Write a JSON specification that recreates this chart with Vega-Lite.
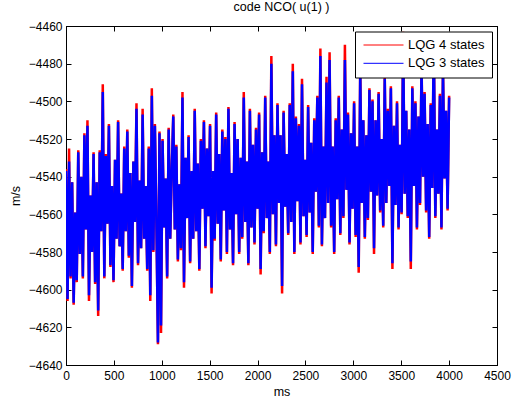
{
  "$schema": "https://vega.github.io/schema/vega-lite/v6.json",
  "width": 431,
  "height": 339,
  "autosize": {"type": "none"},
  "padding": {"left": 66, "top": 26, "right": 19, "bottom": 40},
  "background": "white",
  "title": {"text": "code NCO( u(1) )", "font": "Liberation Sans", "fontSize": 12.5, "fontWeight": "normal", "color": "black", "offset": 7, "anchor": "middle"},
  "config": {
    "view": {"stroke": "black", "strokeWidth": 1},
    "axis": {"domainColor": "black", "domainWidth": 1, "tickColor": "black", "tickWidth": 1, "tickSize": -5, "labelColor": "black", "titleColor": "black", "labelFont": "Liberation Sans", "titleFont": "Liberation Sans", "labelFontSize": 12, "titleFontSize": 12.5, "titleFontWeight": "normal", "grid": false, "labelFlush": false, "labelOverlap": false, "format": "d"}
  },
  "data": {"values": [
    {"t":0,"a":-4536,"b":-4537},{"t":16,"a":-4606,"b":-4605},{"t":32,"a":-4525,"b":-4532},{"t":48,"a":-4594,"b":-4593},{"t":64,"a":-4543,"b":-4543},{"t":80,"a":-4608,"b":-4607},{"t":96,"a":-4559,"b":-4559},{"t":112,"a":-4596,"b":-4595},{"t":128,"a":-4526,"b":-4527},{"t":144,"a":-4581,"b":-4581},
    {"t":160,"a":-4540,"b":-4540},{"t":176,"a":-4594,"b":-4593},{"t":192,"a":-4517,"b":-4518},{"t":208,"a":-4568,"b":-4568},{"t":224,"a":-4510,"b":-4513},{"t":240,"a":-4606,"b":-4603},{"t":256,"a":-4550,"b":-4550},{"t":272,"a":-4580,"b":-4580},{"t":288,"a":-4527,"b":-4528},{"t":304,"a":-4597,"b":-4596},
    {"t":320,"a":-4543,"b":-4543},{"t":336,"a":-4614,"b":-4611},{"t":352,"a":-4526,"b":-4527},{"t":368,"a":-4569,"b":-4569},{"t":384,"a":-4491,"b":-4495},{"t":400,"a":-4594,"b":-4593},{"t":416,"a":-4528,"b":-4529},{"t":432,"a":-4565,"b":-4565},{"t":448,"a":-4512,"b":-4513},{"t":464,"a":-4588,"b":-4587},
    {"t":480,"a":-4545,"b":-4545},{"t":496,"a":-4596,"b":-4595},{"t":512,"a":-4531,"b":-4531},{"t":528,"a":-4573,"b":-4573},{"t":544,"a":-4510,"b":-4511},{"t":560,"a":-4577,"b":-4577},{"t":576,"a":-4549,"b":-4549},{"t":592,"a":-4590,"b":-4589},{"t":608,"a":-4524,"b":-4525},{"t":624,"a":-4569,"b":-4569},
    {"t":640,"a":-4515,"b":-4516},{"t":656,"a":-4583,"b":-4582},{"t":672,"a":-4538,"b":-4538},{"t":688,"a":-4599,"b":-4598},{"t":704,"a":-4532,"b":-4532},{"t":720,"a":-4564,"b":-4564},{"t":736,"a":-4501,"b":-4504},{"t":752,"a":-4587,"b":-4586},{"t":768,"a":-4542,"b":-4542},{"t":784,"a":-4578,"b":-4578},
    {"t":800,"a":-4504,"b":-4507},{"t":816,"a":-4573,"b":-4573},{"t":832,"a":-4545,"b":-4545},{"t":848,"a":-4590,"b":-4589},{"t":864,"a":-4524,"b":-4525},{"t":880,"a":-4606,"b":-4603},{"t":896,"a":-4493,"b":-4497},{"t":912,"a":-4580,"b":-4579},{"t":928,"a":-4512,"b":-4513},{"t":944,"a":-4565,"b":-4565},
    {"t":960,"a":-4629,"b":-4628},{"t":976,"a":-4516,"b":-4517},{"t":992,"a":-4623,"b":-4619},{"t":1008,"a":-4520,"b":-4521},{"t":1024,"a":-4567,"b":-4567},{"t":1040,"a":-4541,"b":-4541},{"t":1056,"a":-4594,"b":-4593},{"t":1072,"a":-4514,"b":-4515},{"t":1088,"a":-4573,"b":-4573},{"t":1104,"a":-4537,"b":-4537},
    {"t":1120,"a":-4507,"b":-4508},{"t":1136,"a":-4568,"b":-4568},{"t":1152,"a":-4523,"b":-4524},{"t":1168,"a":-4585,"b":-4584},{"t":1184,"a":-4544,"b":-4544},{"t":1200,"a":-4579,"b":-4578},{"t":1216,"a":-4495,"b":-4498},{"t":1232,"a":-4599,"b":-4596},{"t":1248,"a":-4530,"b":-4530},{"t":1264,"a":-4562,"b":-4562},
    {"t":1280,"a":-4518,"b":-4519},{"t":1296,"a":-4586,"b":-4585},{"t":1312,"a":-4537,"b":-4537},{"t":1328,"a":-4573,"b":-4573},{"t":1344,"a":-4504,"b":-4505},{"t":1360,"a":-4569,"b":-4569},{"t":1376,"a":-4533,"b":-4533},{"t":1392,"a":-4590,"b":-4589},{"t":1408,"a":-4520,"b":-4521},{"t":1424,"a":-4557,"b":-4557},
    {"t":1440,"a":-4510,"b":-4511},{"t":1456,"a":-4578,"b":-4577},{"t":1472,"a":-4525,"b":-4525},{"t":1488,"a":-4561,"b":-4561},{"t":1504,"a":-4512,"b":-4513},{"t":1520,"a":-4602,"b":-4599},{"t":1536,"a":-4537,"b":-4537},{"t":1552,"a":-4574,"b":-4573},{"t":1568,"a":-4506,"b":-4507},{"t":1584,"a":-4565,"b":-4565},
    {"t":1600,"a":-4528,"b":-4528},{"t":1616,"a":-4585,"b":-4584},{"t":1632,"a":-4515,"b":-4516},{"t":1648,"a":-4558,"b":-4558},{"t":1664,"a":-4519,"b":-4520},{"t":1680,"a":-4581,"b":-4580},{"t":1696,"a":-4503,"b":-4504},{"t":1712,"a":-4568,"b":-4568},{"t":1728,"a":-4538,"b":-4538},{"t":1744,"a":-4587,"b":-4586},
    {"t":1760,"a":-4511,"b":-4512},{"t":1776,"a":-4560,"b":-4560},{"t":1792,"a":-4520,"b":-4520},{"t":1808,"a":-4581,"b":-4580},{"t":1824,"a":-4530,"b":-4530},{"t":1840,"a":-4573,"b":-4572},{"t":1856,"a":-4495,"b":-4498},{"t":1872,"a":-4564,"b":-4564},{"t":1888,"a":-4532,"b":-4532},{"t":1904,"a":-4587,"b":-4586},
    {"t":1920,"a":-4504,"b":-4505},{"t":1936,"a":-4567,"b":-4567},{"t":1952,"a":-4523,"b":-4523},{"t":1968,"a":-4576,"b":-4575},{"t":1984,"a":-4514,"b":-4515},{"t":2000,"a":-4557,"b":-4557},{"t":2016,"a":-4506,"b":-4507},{"t":2032,"a":-4592,"b":-4589},{"t":2048,"a":-4527,"b":-4527},{"t":2064,"a":-4570,"b":-4569},
    {"t":2080,"a":-4497,"b":-4498},{"t":2096,"a":-4562,"b":-4562},{"t":2112,"a":-4532,"b":-4532},{"t":2128,"a":-4581,"b":-4580},{"t":2144,"a":-4476,"b":-4480},{"t":2160,"a":-4560,"b":-4560},{"t":2176,"a":-4518,"b":-4518},{"t":2192,"a":-4577,"b":-4576},{"t":2208,"a":-4501,"b":-4502},{"t":2224,"a":-4554,"b":-4554},
    {"t":2240,"a":-4518,"b":-4518},{"t":2256,"a":-4602,"b":-4598},{"t":2272,"a":-4505,"b":-4506},{"t":2288,"a":-4556,"b":-4556},{"t":2304,"a":-4528,"b":-4528},{"t":2320,"a":-4571,"b":-4570},{"t":2336,"a":-4501,"b":-4502},{"t":2352,"a":-4564,"b":-4564},{"t":2368,"a":-4480,"b":-4484},{"t":2384,"a":-4581,"b":-4580},
    {"t":2400,"a":-4508,"b":-4509},{"t":2416,"a":-4553,"b":-4553},{"t":2432,"a":-4512,"b":-4513},{"t":2448,"a":-4576,"b":-4575},{"t":2464,"a":-4488,"b":-4491},{"t":2480,"a":-4561,"b":-4561},{"t":2496,"a":-4531,"b":-4531},{"t":2512,"a":-4572,"b":-4571},{"t":2528,"a":-4502,"b":-4503},{"t":2544,"a":-4559,"b":-4559},
    {"t":2560,"a":-4522,"b":-4522},{"t":2576,"a":-4581,"b":-4580},{"t":2592,"a":-4509,"b":-4510},{"t":2608,"a":-4548,"b":-4548},{"t":2624,"a":-4497,"b":-4498},{"t":2640,"a":-4567,"b":-4566},{"t":2656,"a":-4472,"b":-4476},{"t":2672,"a":-4577,"b":-4576},{"t":2688,"a":-4524,"b":-4524},{"t":2704,"a":-4562,"b":-4562},
    {"t":2720,"a":-4487,"b":-4490},{"t":2736,"a":-4554,"b":-4554},{"t":2752,"a":-4474,"b":-4478},{"t":2768,"a":-4567,"b":-4566},{"t":2784,"a":-4524,"b":-4524},{"t":2800,"a":-4581,"b":-4580},{"t":2816,"a":-4509,"b":-4510},{"t":2832,"a":-4552,"b":-4552},{"t":2848,"a":-4497,"b":-4498},{"t":2864,"a":-4571,"b":-4570},
    {"t":2880,"a":-4515,"b":-4515},{"t":2896,"a":-4562,"b":-4561},{"t":2912,"a":-4470,"b":-4478},{"t":2928,"a":-4547,"b":-4547},{"t":2944,"a":-4506,"b":-4507},{"t":2960,"a":-4576,"b":-4575},{"t":2976,"a":-4517,"b":-4517},{"t":2992,"a":-4557,"b":-4557},{"t":3008,"a":-4500,"b":-4501},{"t":3024,"a":-4572,"b":-4571},
    {"t":3040,"a":-4524,"b":-4524},{"t":3056,"a":-4591,"b":-4588},{"t":3072,"a":-4481,"b":-4484},{"t":3088,"a":-4554,"b":-4554},{"t":3104,"a":-4510,"b":-4510},{"t":3120,"a":-4573,"b":-4572},{"t":3136,"a":-4518,"b":-4518},{"t":3152,"a":-4563,"b":-4562},{"t":3168,"a":-4493,"b":-4494},{"t":3184,"a":-4548,"b":-4548},
    {"t":3200,"a":-4499,"b":-4500},{"t":3216,"a":-4581,"b":-4578},{"t":3232,"a":-4510,"b":-4510},{"t":3248,"a":-4550,"b":-4550},{"t":3264,"a":-4495,"b":-4496},{"t":3280,"a":-4559,"b":-4558},{"t":3296,"a":-4520,"b":-4520},{"t":3312,"a":-4567,"b":-4566},{"t":3328,"a":-4487,"b":-4488},{"t":3344,"a":-4554,"b":-4554},
    {"t":3360,"a":-4504,"b":-4505},{"t":3376,"a":-4545,"b":-4545},{"t":3392,"a":-4492,"b":-4493},{"t":3408,"a":-4589,"b":-4586},{"t":3424,"a":-4513,"b":-4513},{"t":3440,"a":-4555,"b":-4555},{"t":3456,"a":-4500,"b":-4501},{"t":3472,"a":-4568,"b":-4567},{"t":3488,"a":-4523,"b":-4523},{"t":3504,"a":-4560,"b":-4559},
    {"t":3520,"a":-4463,"b":-4467},{"t":3536,"a":-4549,"b":-4549},{"t":3552,"a":-4505,"b":-4505},{"t":3568,"a":-4562,"b":-4561},{"t":3584,"a":-4515,"b":-4515},{"t":3600,"a":-4589,"b":-4585},{"t":3616,"a":-4492,"b":-4493},{"t":3632,"a":-4545,"b":-4545},{"t":3648,"a":-4500,"b":-4501},{"t":3664,"a":-4568,"b":-4567},
    {"t":3680,"a":-4508,"b":-4508},{"t":3696,"a":-4555,"b":-4554},{"t":3712,"a":-4479,"b":-4482},{"t":3728,"a":-4540,"b":-4540},{"t":3744,"a":-4495,"b":-4496},{"t":3760,"a":-4559,"b":-4558},{"t":3776,"a":-4512,"b":-4512},{"t":3792,"a":-4573,"b":-4572},{"t":3808,"a":-4501,"b":-4502},{"t":3824,"a":-4546,"b":-4546},
    {"t":3840,"a":-4464,"b":-4465},{"t":3856,"a":-4562,"b":-4561},{"t":3872,"a":-4515,"b":-4515},{"t":3888,"a":-4549,"b":-4549},{"t":3904,"a":-4496,"b":-4497},{"t":3920,"a":-4568,"b":-4567},{"t":3936,"a":-4482,"b":-4483},{"t":3952,"a":-4541,"b":-4541},{"t":3968,"a":-4505,"b":-4505},{"t":3984,"a":-4558,"b":-4557},
    {"t":4000,"a":-4497,"b":-4498}
  ]},
  "layer": [
    {
      "mark": {"type": "line", "strokeWidth": 2.5, "clip": true},
      "encoding": {
        "x": {"field": "t", "type": "quantitative", "scale": {"domain": [0, 4500], "nice": false},
              "axis": {"title": "ms", "values": [0, 500, 1000, 1500, 2000, 2500, 3000, 3500, 4000, 4500], "labelPadding": 10, "titlePadding": 4}},
        "y": {"field": "a", "type": "quantitative", "scale": {"domain": [-4640, -4460], "nice": false, "zero": false},
              "axis": {"title": "m/s", "values": [-4640, -4620, -4600, -4580, -4560, -4540, -4520, -4500, -4480, -4460], "labelPadding": 9, "titlePadding": 6}},
        "color": {"datum": "LQG 4 states", "type": "nominal",
                  "scale": {"domain": ["LQG 4 states", "LQG 3 states"], "range": ["#ff0000", "#0000ff"]},
                  "legend": {"title": null, "orient": "none", "legendX": 289, "legendY": 5.5, "strokeColor": "black", "fillColor": "white", "padding": 7, "symbolType": "stroke", "symbolSize": 1600, "symbolStrokeWidth": 1, "clipHeight": 13, "symbolOffset": 1, "labelOffset": 4, "rowPadding": 4.3, "labelFont": "Liberation Sans", "labelFontSize": 13, "labelColor": "black"}}
      }
    },
    {
      "mark": {"type": "line", "strokeWidth": 2.5, "clip": true},
      "encoding": {
        "x": {"field": "t", "type": "quantitative", "axis": {"orient": "top", "title": null, "labels": false, "values": [0, 500, 1000, 1500, 2000, 2500, 3000, 3500, 4000, 4500]}},
        "y": {"field": "b", "type": "quantitative", "axis": {"orient": "right", "title": null, "labels": false, "values": [-4640, -4620, -4600, -4580, -4560, -4540, -4520, -4500, -4480, -4460]}},
        "color": {"datum": "LQG 3 states", "type": "nominal"}
      }
    }
  ],
  "resolve": {"axis": {"x": "independent", "y": "independent"}}
}
